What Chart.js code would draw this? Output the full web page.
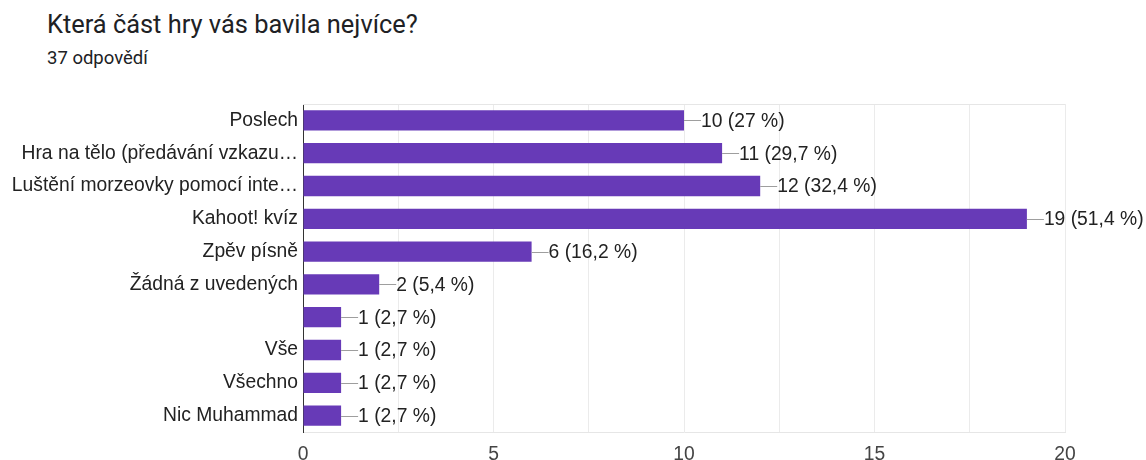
<!DOCTYPE html>
<html lang="cs">
<head>
<meta charset="utf-8">
<script src="https://cdn.jsdelivr.net/npm/chart.js@4/dist/chart.umd.min.js"></script>
<style>
  html, body { margin: 0; padding: 0; background: #fff; }
  body { width: 1146px; height: 460px; position: relative; overflow: hidden; }
  #title { position: absolute; left: 47px; top: 10px; font: 400 25.4px/1.17 Roboto, sans-serif; color: #202124; white-space: nowrap; }
  #subtitle { position: absolute; left: 47px; top: 48px; font: 400 18.5px/1.17 Roboto, sans-serif; color: #202124; white-space: nowrap; }
  #wrap { position: absolute; left: 0; top: 0; width: 1146px; height: 460px; }
</style>
</head>
<body>
<div id="title">Která část hry vás bavila nejvíce?</div>
<div id="subtitle">37 odpovědí</div>
<div id="wrap"><canvas id="chart"></canvas></div>
<script>
// Answers and their counts
const categories = [
  'Poslech',
  'Hra na tělo (předávání vzkazu…',
  'Luštění morzeovky pomocí inte…',
  'Kahoot! kvíz',
  'Zpěv písně',
  'Žádná z uvedených',
  '',
  'Vše',
  'Všechno',
  'Nic Muhammad'
];
const counts = [10, 11, 12, 19, 6, 2, 1, 1, 1, 1];
const percents = ['27', '29,7', '32,4', '51,4', '16,2', '5,4', '2,7', '2,7', '2,7', '2,7'];
const xTickLabels = [0, 5, 10, 15, 20];

const fontFamily = '"Liberation Sans", Arial, sans-serif';
const fontSize = 19.3;
const labelFont = fontSize + 'px ' + fontFamily;

// Frame line on top plus a "—count (pct %)" label after each bar
const valueLabels = {
  id: 'valueLabels',
  afterDatasetsDraw(chart) {
    const { ctx, chartArea } = chart;
    ctx.save();
    ctx.strokeStyle = '#e6e6e6';
    ctx.lineWidth = 1;
    ctx.beginPath();
    ctx.moveTo(chartArea.left, Math.round(chartArea.top) + 0.5);
    ctx.lineTo(chartArea.right, Math.round(chartArea.top) + 0.5);
    ctx.stroke();

    const meta = chart.getDatasetMeta(0);
    ctx.font = labelFont;
    ctx.fillStyle = '#222';
    ctx.textBaseline = 'middle';
    ctx.textAlign = 'left';
    meta.data.forEach((bar, i) => {
      const x = bar.x;
      const y = Math.round(bar.y) + 0.5;
      ctx.strokeStyle = '#9e9e9e';
      ctx.beginPath();
      ctx.moveTo(x, y);
      ctx.lineTo(x + 17, y);
      ctx.stroke();
      ctx.fillText(counts[i] + ' (' + percents[i] + ' %)', x + 17, bar.y + 1);
    });
    ctx.restore();
  }
};

new Chart(document.getElementById('chart'), {
  type: 'bar',
  data: {
    labels: categories,
    datasets: [{
      data: counts,
      backgroundColor: '#673ab7',
      borderWidth: 0,
      categoryPercentage: 1,
      barPercentage: 0.62
    }]
  },
  options: {
    indexAxis: 'y',
    responsive: true,
    maintainAspectRatio: false,
    animation: false,
    layout: { padding: { top: 104, right: 81, left: 0, bottom: 0 } },
    plugins: { legend: { display: false }, tooltip: { enabled: false } },
    scales: {
      x: {
        min: 0,
        max: 20,
        ticks: {
          stepSize: 2.5,
          autoSkip: false,
          maxRotation: 0,
          color: '#444',
          font: { family: fontFamily, size: fontSize },
          padding: 11,
          callback: (v) => xTickLabels.includes(v) ? String(v) : ''
        },
        grid: { color: '#ebebeb', drawTicks: false },
        border: { color: '#e6e6e6' },
        afterFit(scale) { scale.height = 28; }
      },
      y: {
        ticks: {
          color: '#222',
          font: { family: fontFamily, size: fontSize },
          padding: 5,
          autoSkip: false
        },
        grid: { display: false, drawTicks: false },
        border: { color: '#333', width: 1 },
        afterFit(scale) { scale.width = 303; }
      }
    }
  },
  plugins: [valueLabels]
});
</script>
</body>
</html>
